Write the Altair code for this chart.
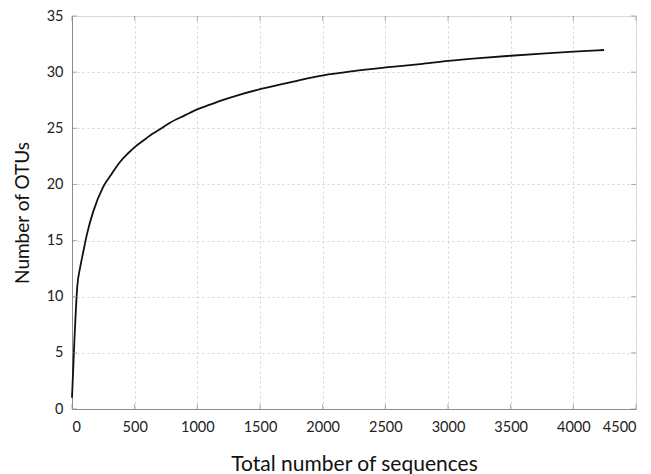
import altair as alt
import pandas as pd

seqs = [0, 20, 42, 65, 90, 120, 170, 250, 320, 383, 450, 503, 580, 649, 720, 782, 900,
        1003, 1101, 1200, 1341, 1508, 1640, 1766, 1880, 2005, 2245, 2503, 2777, 3000,
        3250, 3500, 3750, 4000, 4245]
otus = [1.0, 6.3, 10.9, 12.6, 14.0, 15.6, 17.6, 19.8, 21.0, 22.0, 22.8, 23.35, 24.0, 24.55,
        25.05, 25.5, 26.15, 26.7, 27.1, 27.5, 28.0, 28.5, 28.85, 29.15, 29.45, 29.72, 30.1,
        30.42, 30.72, 31.0, 31.25, 31.46, 31.65, 31.82, 31.97]
x_ticks = [0, 500, 1000, 1500, 2000, 2500, 3000, 3500, 4000, 4500]
y_ticks = [0, 5, 10, 15, 20, 25, 30, 35]

W, H = 564, 393
FONT = "Lato"
AX = "#8c8c8c"

df = pd.DataFrame({"x": seqs, "y": otus})
xt = pd.DataFrame({"x": x_ticks})
yt = pd.DataFrame({"y": y_ticks})

xscale = alt.Scale(domain=[0, 4500], nice=False, zero=False)
yscale = alt.Scale(domain=[0, 35], nice=False, zero=False)

xaxis = alt.Axis(values=x_ticks, format="d", title="Total number of sequences", grid=True,
                 gridDash=[2, 3], gridColor="#d2d2d2", domainColor=AX, tickSize=0,
                 labelPadding=11, labelFontSize=14.5, labelColor="#222", titleFontSize=21,
                 titleFontWeight="normal", titlePadding=20, titleColor="#111",
                 labelFont=FONT, titleFont=FONT)
yaxis = alt.Axis(values=y_ticks, format="d", title="Number of OTUs", grid=True,
                 gridDash=[2, 3], gridColor="#d2d2d2", domainColor=AX, tickSize=0,
                 labelPadding=9, labelFontSize=14.5, labelColor="#222", titleFontSize=19,
                 titleFontWeight="normal", titlePadding=14, titleColor="#111",
                 labelFont=FONT, titleFont=FONT)

line = alt.Chart(df).mark_line(color="#111", strokeWidth=1.8, interpolate="monotone").encode(
    x=alt.X("x:Q", scale=xscale, axis=xaxis),
    y=alt.Y("y:Q", scale=yscale, axis=yaxis),
)

bt = alt.Chart(xt).mark_tick(orient="vertical", color=AX, size=5, thickness=1).encode(
    x=alt.X("x:Q", scale=xscale), y=alt.value(H - 2.5))
tt = alt.Chart(xt).mark_tick(orient="vertical", color=AX, size=5, thickness=1).encode(
    x=alt.X("x:Q", scale=xscale), y=alt.value(2.5))
lt = alt.Chart(yt).mark_tick(orient="horizontal", color=AX, size=5, thickness=1).encode(
    y=alt.Y("y:Q", scale=yscale), x=alt.value(2.5))
rt = alt.Chart(yt).mark_tick(orient="horizontal", color=AX, size=5, thickness=1).encode(
    y=alt.Y("y:Q", scale=yscale), x=alt.value(W - 2.5))

chart = alt.layer(line, bt, tt, lt, rt).properties(
    width=W, height=H,
    autosize=alt.AutoSizeParams(type="none"),
    padding={"left": 72, "top": 16, "right": 15, "bottom": 65},
).configure_view(stroke=AX, strokeWidth=1).configure(background="white")

chart.save("out.html", embed_options={"renderer": "svg", "actions": False})
